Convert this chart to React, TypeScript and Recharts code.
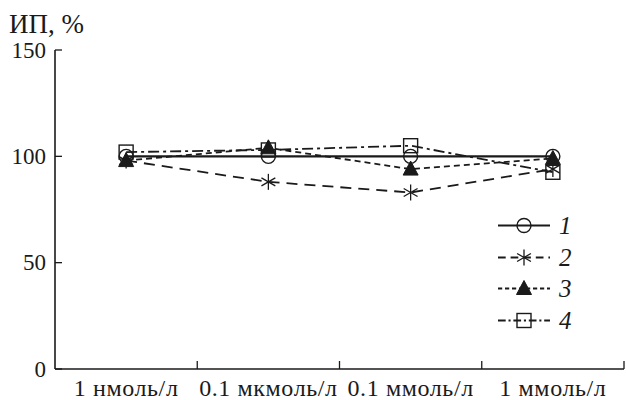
import React from 'react';
import { LineChart, Line, XAxis, YAxis } from 'recharts';

const categories = ['1 нмоль/л', '0.1 мкмоль/л', '0.1 ммоль/л', '1 ммоль/л'];
const series1 = [100, 100, 100, 100];
const series2 = [98, 88, 83, 94];
const series3 = [98, 104, 94, 99];
const series4 = [102, 103, 105, 92.5];
const yTicks = [0, 50, 100, 150];
const seriesNames = ['1', '2', '3', '4'];

const data = categories.map((c, i) => ({
  cat: c,
  s1: series1[i],
  s2: series2[i],
  s3: series3[i],
  s4: series4[i],
}));

const INK = '#1a1a1a';
const FONT = '"Liberation Serif", "Times New Roman", serif';

type Shape = 'circle' | 'star' | 'triangle' | 'square';

const Marker = ({ cx, cy, shape }: { cx: number; cy: number; shape: Shape }) => {
  if (cx == null || cy == null) return null;
  if (shape === 'circle') {
    return <circle cx={cx} cy={cy} r={7} fill="none" stroke={INK} strokeWidth={1.4} />;
  }
  if (shape === 'square') {
    return <rect x={cx - 7} y={cy - 7} width={14} height={14} fill="none" stroke={INK} strokeWidth={1.4} />;
  }
  if (shape === 'triangle') {
    return (
      <polygon
        points={`${cx},${cy - 8} ${cx - 7.5},${cy + 6} ${cx + 7.5},${cy + 6}`}
        fill={INK}
        stroke={INK}
        strokeWidth={1}
      />
    );
  }
  const r = 8;
  const a = Math.cos(Math.PI / 6) * r;
  const b = Math.sin(Math.PI / 6) * r;
  return (
    <g stroke={INK} strokeWidth={1.3}>
      <line x1={cx} y1={cy - r} x2={cx} y2={cy + r} />
      <line x1={cx - a} y1={cy - b} x2={cx + a} y2={cy + b} />
      <line x1={cx - a} y1={cy + b} x2={cx + a} y2={cy - b} />
    </g>
  );
};

const seriesStyle: { key: string; shape: Shape; dash?: string; width: number }[] = [
  { key: 's1', shape: 'circle', width: 2.2 },
  { key: 's2', shape: 'star', dash: '11 7', width: 1.8 },
  { key: 's3', shape: 'triangle', dash: '6 4', width: 1.8 },
  { key: 's4', shape: 'square', dash: '11 4 3 4', width: 1.8 },
];

const YTick = (props: any) => {
  const { x, y, payload } = props;
  return (
    <g>
      <line x1={x} y1={y} x2={x + 7} y2={y} stroke={INK} strokeWidth={1.3} />
      <text x={x - 9} y={y} dy="0.34em" textAnchor="end" fontFamily={FONT} fontSize={23} fill={INK}>
        {payload.value}
      </text>
    </g>
  );
};

const XTick = (props: any) => {
  const { x, y, payload, width, visibleTicksCount } = props;
  const half =
    width && visibleTicksCount ? width / visibleTicksCount / 2 : payload.offset || 0;
  return (
    <g>
      <line x1={x + half} y1={y} x2={x + half} y2={y - 8} stroke={INK} strokeWidth={1.3} />
      <text
        x={x}
        y={y + 27}
        textAnchor="middle"
        fontFamily={FONT}
        fontSize={24}
        letterSpacing={0.6}
        fill={INK}
      >
        {payload.value}
      </text>
    </g>
  );
};

const LegendBox = () => (
  <div style={{ position: 'absolute', left: 495, top: 210, display: 'flex', flexDirection: 'column' }}>
    {seriesStyle.map((s, i) => (
      <div key={s.key} style={{ display: 'flex', alignItems: 'center', height: 31.5 }}>
        <svg width={58} height={31}>
          <line
            x1={3}
            y1={15.5}
            x2={55}
            y2={15.5}
            stroke={INK}
            strokeWidth={s.width}
            strokeDasharray={s.dash ? s.dash.split(' ').map((v) => Number(v) * 0.7).join(' ') : undefined}
          />
          <Marker cx={29} cy={15.5} shape={s.shape} />
        </svg>
        <span
          style={{
            fontFamily: FONT,
            fontStyle: 'italic',
            fontSize: 25,
            color: INK,
            marginLeft: 6,
            lineHeight: '31px',
          }}
        >
          {seriesNames[i]}
        </span>
      </div>
    ))}
  </div>
);

export default function App() {
  return (
    <div style={{ position: 'absolute', left: 0, top: 0, width: 626, height: 400, background: '#fff' }}>
      <div
        style={{
          position: 'absolute',
          left: 9,
          top: 8,
          fontFamily: FONT,
          fontSize: 27,
          color: INK,
          lineHeight: '32px',
        }}
      >
        ИП, %
      </div>
      <LineChart
        width={626}
        height={400}
        data={data}
        margin={{ top: 50, right: 2, bottom: 0, left: 10 }}
      >
        <XAxis
          dataKey="cat"
          scale="band"
          interval={0}
          height={31}
          tickSize={0}
          tickMargin={0}
          tickLine={false}
          axisLine={{ stroke: INK, strokeWidth: 1.6 }}
          tick={<XTick />}
        />
        <YAxis
          width={45}
          domain={[0, 150]}
          ticks={yTicks}
          tickSize={0}
          tickMargin={0}
          tickLine={false}
          axisLine={{ stroke: INK, strokeWidth: 1.6 }}
          tick={<YTick />}
        />
        {seriesStyle.map((s) => (
          <Line
            key={s.key}
            dataKey={s.key}
            type="linear"
            stroke={INK}
            strokeWidth={s.width}
            strokeDasharray={s.dash}
            dot={(p: any) => <Marker key={`${s.key}-${p.index}`} cx={p.cx} cy={p.cy} shape={s.shape} />}
            activeDot={false}
            isAnimationActive={false}
          />
        ))}
      </LineChart>
      <LegendBox />
    </div>
  );
}
